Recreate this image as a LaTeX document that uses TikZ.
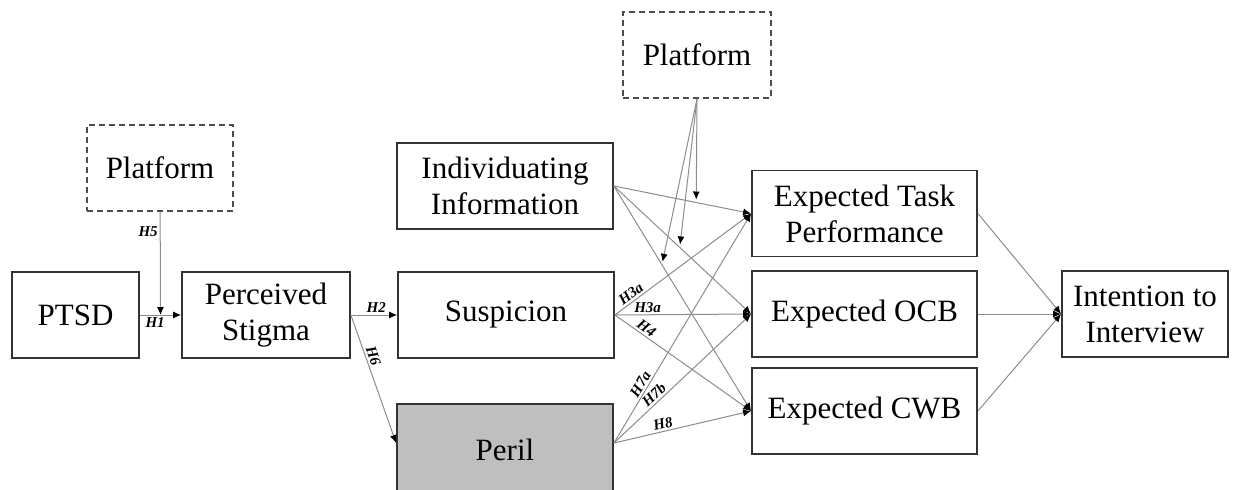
\documentclass[tikz,border=0pt]{standalone}
\usepackage{fontspec}
\setmainfont{Liberation Serif}
\usetikzlibrary{arrows.meta,calc}

\tikzset{
  box/.style={draw=black!80, line width=0.9pt, align=center, inner sep=2pt,
    minimum height=43pt, font=\fontsize{15.5}{18}\selectfont},
  modbox/.style={box, draw=black!70, dash pattern=on 3pt off 2pt},
  link/.style={draw=black!45, line width=0.5pt,
    -{Latex[length=4pt,width=3.5pt,color=black]}},
  hyp/.style={font=\fontsize{7.5}{8}\selectfont\bfseries\itshape, inner sep=1pt}
}

\begin{document}
\begin{tikzpicture}[x=0.5pt, y=-0.5pt]
    \useasboundingbox (0,0) rectangle (1233,489);

    % boxes
    \node[modbox, minimum width=73pt] (platA) at (160,168) {Platform};
    \node[modbox, minimum width=74pt] (platB) at (697,55) {Platform};
    \node[box, minimum width=63.5pt] (ptsd) at (75.5,315) {PTSD};
    \node[box, minimum width=84pt] (stigma) at (266,315) {Perceived\\Stigma};
    \node[box, minimum width=108pt] (indiv) at (505,186) {Individuating\\Information};
    \node[box, minimum width=108pt] (susp) at (506,315) {Suspicion};
    \node[box, minimum width=108pt, minimum height=46pt, fill=black!25] (peril) at (505,450) {Peril};
    \node[box, minimum width=112.5pt] (etp) at (864.5,213.5) {Expected Task\\Performance};
    \node[box, minimum width=112.5pt] (ocb) at (864.5,314) {Expected OCB};
    \node[box, minimum width=112.5pt] (cwb) at (864.5,411) {Expected CWB};
    \node[box, minimum width=83pt] (intent) at (1145,314) {Intention to\\Interview};

    \coordinate (perilout) at ([yshift=3.5pt]peril.east);
    \coordinate (perilin) at ([yshift=3.5pt]peril.west);

    % left part
    \draw[link] (ptsd) -- node[hyp, pos=0.37, below] {H1} (stigma);
    \coordinate (mA) at ($(ptsd.east)!0.5!(stigma.west)$);
    \draw[link] (platA) -- node[hyp, pos=0.19, left] {H5} (mA);
    \draw[link] (stigma) -- node[hyp, pos=0.55, above] {H2} (susp);
    \draw[link] (stigma.east) -- node[hyp, pos=0.34, sloped, above] {H6} (perilin);

    % individuating information to outcomes
    \foreach \out in {etp, ocb, cwb}
        \draw[link] (indiv.east) -- (\out.west);

    % suspicion to outcomes
    \draw[link] (susp.east) -- node[hyp, pos=0.15, sloped, above] {H3a} (etp.west);
    \draw[link] (susp.east) -- node[hyp, pos=0.24, above] {H3a} (ocb.west);
    \draw[link] (susp.east) -- node[hyp, pos=0.2, sloped, above] {H4} (cwb.west);

    % peril to outcomes
    \draw[link] (perilout) -- node[hyp, pos=0.24, sloped, above] {H7a} (etp.west);
    \draw[link] (perilout) -- node[hyp, pos=0.33, sloped, above] {H7b} (ocb.west);
    \draw[link] (perilout) -- node[hyp, pos=0.37, sloped, above] {H8} (cwb.west);

    % platform moderates individuating information
    \coordinate (mB) at ($(indiv.east)!0.6!(etp.west)$);
    \coordinate (mC) at ($(indiv.east)!0.48!(ocb.west)$);
    \coordinate (mD) at ($(indiv.east)!0.35!(cwb.west)$);
    \foreach \m in {mB, mC, mD}
        \draw[link, shorten >=1.5pt] (platB.south) -- (\m);

    % outcomes to intention
    \foreach \out in {etp, ocb, cwb}
        \draw[link] (\out.east) -- (intent.west);
\end{tikzpicture}
\end{document}
